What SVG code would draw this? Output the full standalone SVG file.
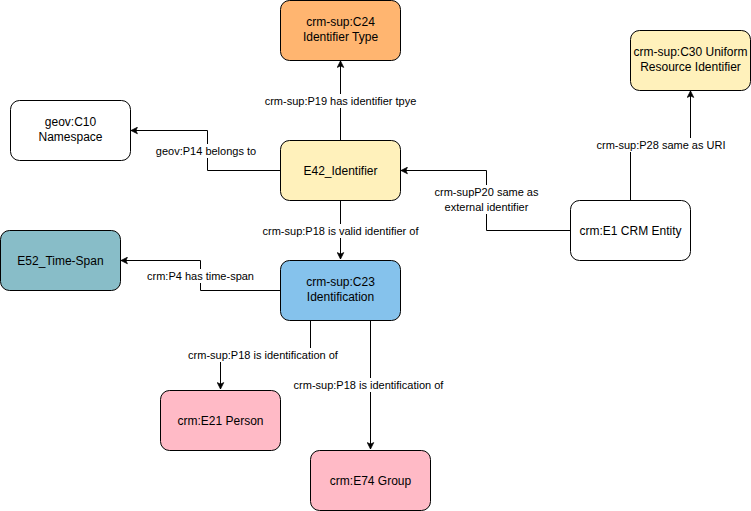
<svg xmlns="http://www.w3.org/2000/svg" width="751" height="511" viewBox="0 0 751 511">
<style>
.n{stroke:#000;stroke-width:1}
.t{font-family:"Liberation Sans",Arial,sans-serif;font-size:12px;fill:#000;text-anchor:middle}
.l{font-family:"Liberation Sans",Arial,sans-serif;font-size:11px;fill:#000;text-anchor:middle}
.c{fill:none;stroke:#000;stroke-width:1}
.bg{fill:#fff}
.y{fill:#FFF1BB}
</style>
<defs>
<marker id="a" viewBox="0 0 10 10" refX="9" refY="5" markerWidth="8" markerHeight="8" orient="auto" markerUnits="userSpaceOnUse">
<path d="M1,1 L9,5 L1,9 L3,5 z" fill="#000" stroke="#000" stroke-width="1"/>
</marker>
</defs>
<rect width="751" height="511" fill="#fff"/>
<g id="connectors">
<path class="c" d="M340.5,140 V61" marker-end="url(#a)"/>
<path class="c" d="M280,170.5 H207.5 V130.5 H131" marker-end="url(#a)"/>
<path class="c" d="M340.5,200 V259" marker-end="url(#a)"/>
<path class="c" d="M570,230.5 H486.5 V170.5 H401" marker-end="url(#a)"/>
<path class="c" d="M630.5,200 V145.5 H690.5 V91" marker-end="url(#a)"/>
<path class="c" d="M280,290.5 H200.5 V260.5 H121" marker-end="url(#a)"/>
<path class="c" d="M310.5,320 V355.5 H220.5 V389" marker-end="url(#a)"/>
<path class="c" d="M370.5,320 V449" marker-end="url(#a)"/>
<g id="labels">
<rect class="bg" x="256" y="94" width="169" height="14"/>
<text class="l" x="340.5" y="105">crm-sup:P19 has identifier tpye</text>
<rect class="bg" x="155" y="144" width="102" height="14"/>
<text class="l" x="206" y="155">geov:P14 belongs to</text>
<rect class="bg" x="260" y="224" width="161" height="14"/>
<text class="l" x="340.5" y="235">crm-sup:P18 is valid identifier of</text>
<rect class="bg" x="430" y="185" width="112" height="29"/>
<text class="l" x="486.5" y="196">crm-supP20 same as</text>
<text class="l" x="486.5" y="211">external identifier</text>
<rect class="bg" x="595" y="138" width="132" height="14"/>
<text class="l" x="661" y="149">crm-sup:P28 same as URI</text>
<rect class="bg" x="147" y="269" width="107" height="14"/>
<text class="l" x="200.5" y="280">crm:P4 has time-span</text>
<rect class="bg" x="188" y="348" width="151" height="14"/>
<text class="l" x="263" y="359">crm-sup:P18 is identification of</text>
<rect class="bg" x="293" y="378" width="151" height="14"/>
<text class="l" x="368.5" y="389">crm-sup:P18 is identification of</text>
</g>
</g>
<g id="C24">
<rect class="n" x="280.5" y="0.5" width="120" height="60" rx="9" fill="#FFB570"/>
<text class="t" x="340.5" y="26">crm-sup:C24</text>
<text class="t" x="340.5" y="41">Identifier Type</text>
</g>
<g id="C10">
<rect class="n" x="10.5" y="100.5" width="120" height="60" rx="9" fill="#fff"/>
<text class="t" x="70.5" y="126">geov:C10</text>
<text class="t" x="70.5" y="141">Namespace</text>
</g>
<g id="E42">
<rect class="n y" x="280.5" y="140.5" width="120" height="60" rx="9"/>
<text class="t" x="340.5" y="175">E42_Identifier</text>
</g>
<g id="C30">
<rect class="n y" x="630.5" y="30.5" width="120" height="60" rx="9"/>
<text class="t" x="690.5" y="56">crm-sup:C30 Uniform</text>
<text class="t" x="690.5" y="71">Resource Identifier</text>
</g>
<g id="E1">
<rect class="n" x="570.5" y="200.5" width="120" height="60" rx="9" fill="#fff"/>
<text class="t" x="630.5" y="235">crm:E1 CRM Entity</text>
</g>
<g id="E52">
<rect class="n" x="0.5" y="230.5" width="120" height="60" rx="9" fill="#88BDC8"/>
<text class="t" x="60.5" y="265">E52_Time-Span</text>
</g>
<g id="C23">
<rect class="n" x="280.5" y="260.5" width="120" height="60" rx="9" fill="#85C2EC"/>
<text class="t" x="340.5" y="286">crm-sup:C23</text>
<text class="t" x="340.5" y="301">Identification</text>
</g>
<g id="E21">
<rect class="n" x="160.5" y="390.5" width="120" height="60" rx="9" fill="#FFBAC6"/>
<text class="t" x="220.5" y="425">crm:E21 Person</text>
</g>
<g id="E74">
<rect class="n" x="310.5" y="450.5" width="120" height="60" rx="9" fill="#FFBAC6"/>
<text class="t" x="370.5" y="485">crm:E74 Group</text>
</g>
</svg>
